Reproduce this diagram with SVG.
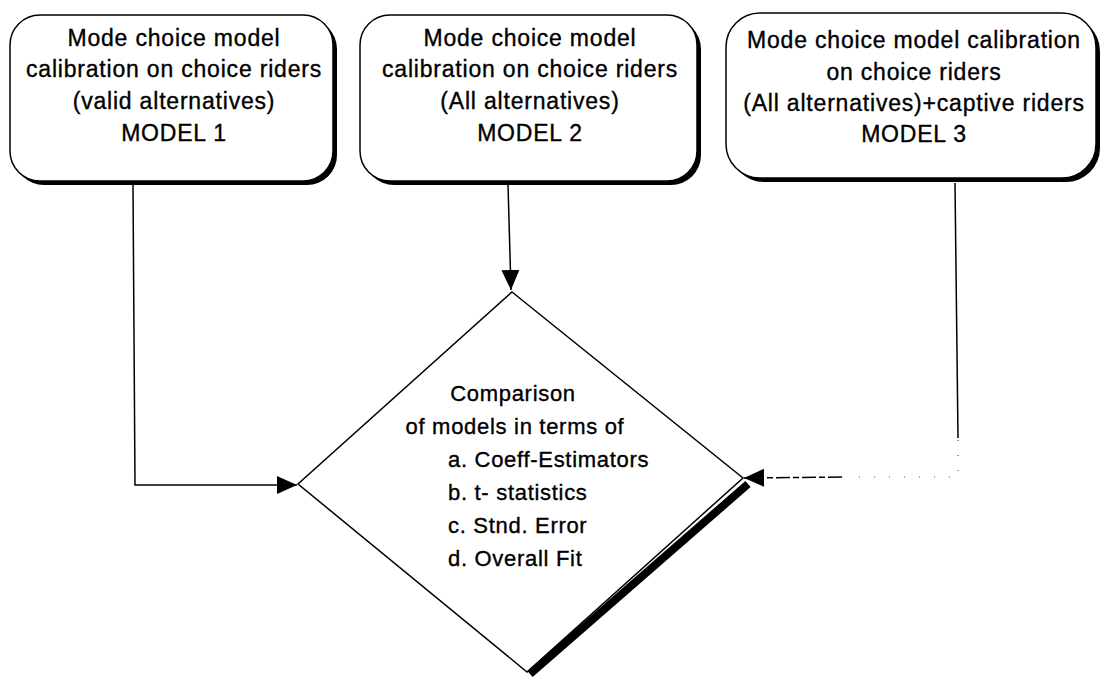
<svg xmlns="http://www.w3.org/2000/svg" width="1103" height="677" viewBox="0 0 1103 677">
  <style>
    .box { fill: #ffffff; stroke: #000000; stroke-width: 1.5; }
    .shadow { fill: #000000; stroke: none; }
    .label { font-family: "Liberation Sans", Arial, sans-serif; font-size: 23px; letter-spacing: 0.8px; fill: #000000; stroke: #000000; stroke-width: 0.35; text-anchor: middle; }
    .dlabel { font-family: "Liberation Sans", Arial, sans-serif; font-size: 22px; letter-spacing: 0.7px; fill: #000000; stroke: #000000; stroke-width: 0.35; }
    .mid { text-anchor: middle; }
    .wire { fill: none; stroke: #000000; stroke-width: 1.5; }
    .faint { fill: none; stroke: #555555; stroke-width: 1.2; stroke-dasharray: 1 14; }
    .broken { fill: none; stroke: #000000; stroke-width: 1.5; stroke-dasharray: 14 3 6 3; }
  </style>
  <defs>
    <marker id="head" viewBox="0 0 20 18" refX="20" refY="9" markerWidth="20" markerHeight="18" markerUnits="userSpaceOnUse" orient="auto">
      <path d="M0,0 L20,9 L0,18 z" fill="#000000"/>
    </marker>
  </defs>

  <rect width="1103" height="677" fill="#ffffff"/>

  <!-- MODEL 1 -->
  <g id="model1">
    <rect class="shadow" x="14" y="19" width="323" height="166" rx="30" ry="30"/>
    <rect class="box" x="10" y="15" width="323" height="166" rx="30" ry="30"/>
    <text class="label" x="174" y="46">Mode choice model</text>
    <text class="label" x="174" y="77">calibration on choice riders</text>
    <text class="label" x="174" y="109">(valid alternatives)</text>
    <text class="label" x="174" y="141">MODEL 1</text>
  </g>

  <!-- MODEL 2 -->
  <g id="model2">
    <rect class="shadow" x="364" y="19" width="337" height="166" rx="30" ry="30"/>
    <rect class="box" x="360" y="15" width="337" height="166" rx="30" ry="30"/>
    <text class="label" x="530" y="46">Mode choice model</text>
    <text class="label" x="530" y="77">calibration on choice riders</text>
    <text class="label" x="530" y="109">(All alternatives)</text>
    <text class="label" x="530" y="141">MODEL 2</text>
  </g>

  <!-- MODEL 3 -->
  <g id="model3">
    <rect class="shadow" x="730" y="17" width="370" height="165" rx="34" ry="34"/>
    <rect class="box" x="726" y="13" width="370" height="165" rx="34" ry="34"/>
    <text class="label" x="914" y="48">Mode choice model calibration</text>
    <text class="label" x="914" y="80">on choice riders</text>
    <text class="label" x="914" y="111">(All alternatives)+captive riders</text>
    <text class="label" x="914" y="142">MODEL 3</text>
  </g>

  <!-- comparison decision -->
  <g id="comparison">
    <polygon points="512,292 743,478 527,672 298,484" fill="#ffffff" stroke="#000000" stroke-width="1.5"/>
    <line x1="748" y1="484" x2="530" y2="674" stroke="#000000" stroke-width="8"/>
    <text class="dlabel mid" x="513" y="401">Comparison</text>
    <text class="dlabel mid" x="515" y="434">of models in terms of</text>
    <text class="dlabel" x="448" y="467">a. Coeff-Estimators</text>
    <text class="dlabel" x="448" y="500">b. t- statistics</text>
    <text class="dlabel" x="448" y="533">c. Stnd. Error</text>
    <text class="dlabel" x="448" y="566">d. Overall Fit</text>
  </g>

  <!-- connectors -->
  <g id="connectors">
    <path class="wire" d="M133,185 L135,485 L297,485" marker-end="url(#head)"/>
    <path class="wire" d="M508,185 L511,290" marker-end="url(#head)"/>
    <path class="wire" d="M955,183 L958,438"/>
    <path class="faint" d="M958,440 L958,477 L845,477"/>
    <path class="broken" d="M842,477 L744,478" marker-end="url(#head)"/>
  </g>
</svg>
